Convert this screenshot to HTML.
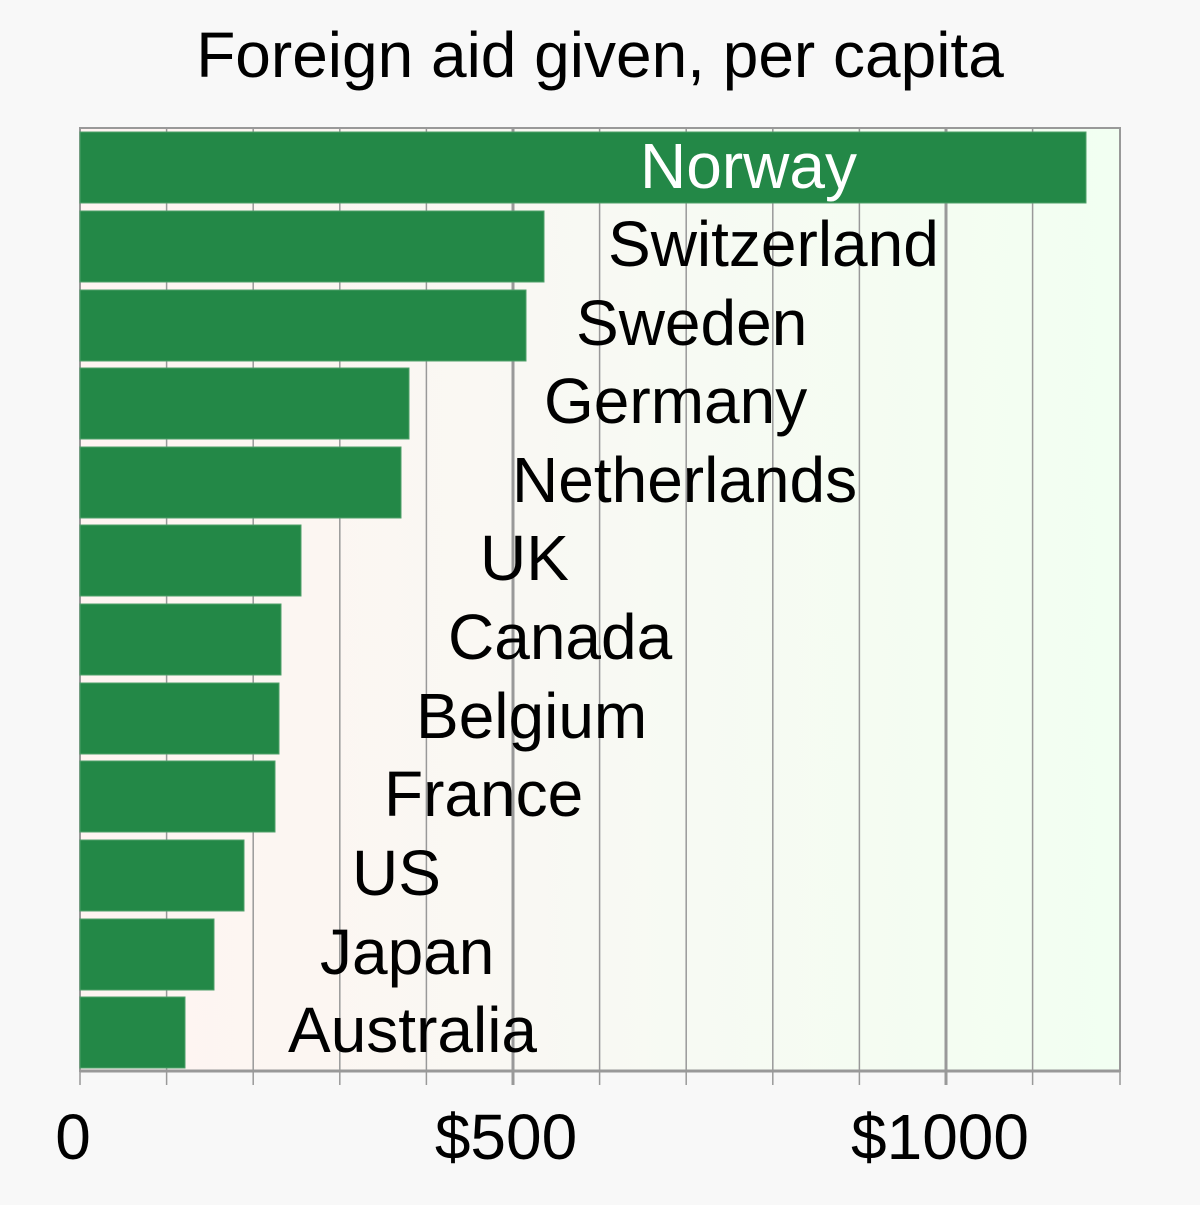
<!DOCTYPE html>
<html><head><style>html,body{margin:0;padding:0;background:#f8f8f8}</style></head><body>
<svg width="1200" height="1200" viewBox="0 0 1200 1200" xmlns="http://www.w3.org/2000/svg" font-family="Liberation Sans, sans-serif">
<defs><linearGradient id="g" x1="0" x2="1" y1="0" y2="0">
<stop offset="0" stop-color="#fff4f2"/><stop offset="0.5" stop-color="#f8f9f3"/><stop offset="1" stop-color="#f2fff2"/></linearGradient></defs>
<rect width="1200" height="1200" fill="#f8f8f8"/>
<text x="600" y="77" font-size="64" text-anchor="middle">Foreign aid given, per capita</text>
<rect x="80" y="128" width="1040" height="943" fill="url(#g)" stroke="#999" stroke-width="2"/>
<g stroke="#999" stroke-width="1.5">
<line x1="166.6" y1="128" x2="166.6" y2="1085"/><line x1="253.2" y1="128" x2="253.2" y2="1085"/>
<line x1="339.8" y1="128" x2="339.8" y2="1085"/><line x1="426.4" y1="128" x2="426.4" y2="1085"/>
<line x1="513" y1="128" x2="513" y2="1085" stroke-width="3"/><line x1="599.6" y1="128" x2="599.6" y2="1085"/>
<line x1="686.2" y1="128" x2="686.2" y2="1085"/><line x1="772.8" y1="128" x2="772.8" y2="1085"/>
<line x1="859.4" y1="128" x2="859.4" y2="1085"/><line x1="946" y1="128" x2="946" y2="1085" stroke-width="3"/>
<line x1="1032.6" y1="128" x2="1032.6" y2="1085"/><line x1="1120" y1="1071" x2="1120" y2="1085"/>
<line x1="80" y1="1071" x2="80" y2="1085"/>
</g>
<line x1="80" y1="1071" x2="1120" y2="1071" stroke="#999" stroke-width="3"/>
<g fill="#238847" stroke="#4fa06a" stroke-width="1">
<rect x="80" y="132" width="1006" height="71"/>
<rect x="80" y="211" width="464" height="71"/>
<rect x="80" y="290" width="446" height="71"/>
<rect x="80" y="368" width="329" height="71"/>
<rect x="80" y="447" width="321" height="71"/>
<rect x="80" y="525" width="221" height="71"/>
<rect x="80" y="604" width="201" height="71"/>
<rect x="80" y="683" width="199" height="71"/>
<rect x="80" y="761" width="195" height="71"/>
<rect x="80" y="840" width="164" height="71"/>
<rect x="80" y="919" width="134" height="71"/>
<rect x="80" y="997" width="105" height="71"/>
</g>
<g font-size="64" fill="#000">
<text x="640" y="188" fill="#fff">Norway</text>
<text x="608" y="266">Switzerland</text>
<text x="576" y="345">Sweden</text>
<text x="544" y="423">Germany</text>
<text x="512" y="502">Netherlands</text>
<text x="480" y="580">UK</text>
<text x="448" y="659">Canada</text>
<text x="416" y="738">Belgium</text>
<text x="384" y="816">France</text>
<text x="352" y="895">US</text>
<text x="320" y="974">Japan</text>
<text x="288" y="1052">Australia</text>
</g>
<g font-size="64" text-anchor="middle">
<text x="73" y="1159">0</text>
<text x="506" y="1159">$500</text>
<text x="940" y="1159">$1000</text>
</g>
</svg>
</body></html>
